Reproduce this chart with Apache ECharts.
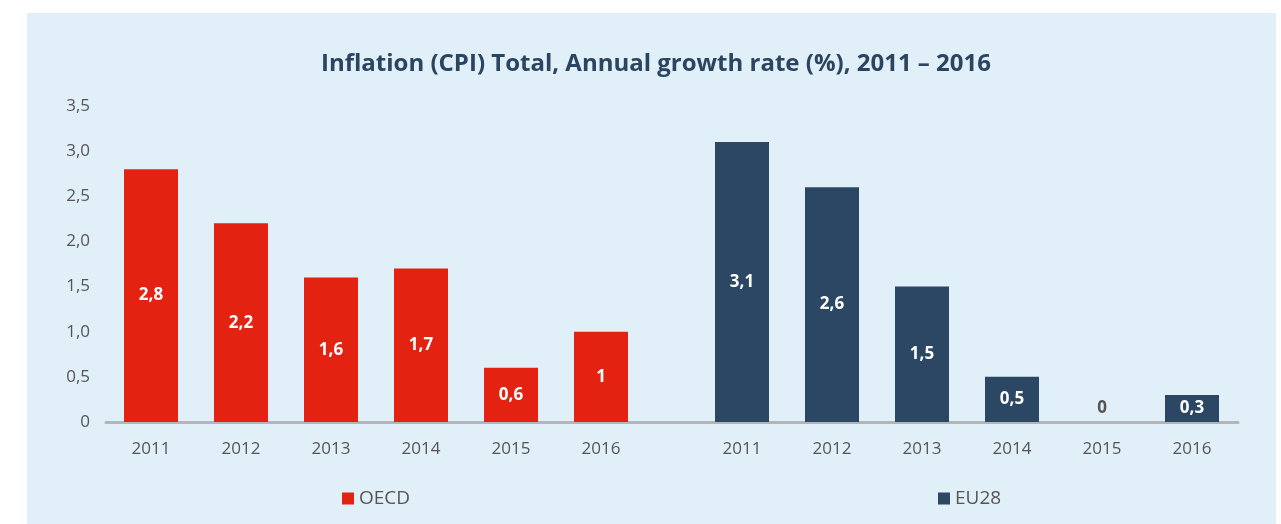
<!DOCTYPE html>
<html>
<head>
<meta charset="utf-8">
<script src="https://cdn.jsdelivr.net/npm/echarts@6/dist/echarts.min.js"></script>
<style>
  html, body { margin: 0; padding: 0; background: #ffffff; }
  #chart { width: 1281px; height: 524px; }
</style>
</head>
<body>
<div id="chart"></div>
<script>
const title = 'Inflation (CPI) Total, Annual growth rate (%), 2011 \u2013 2016';
const years = ['2011', '2012', '2013', '2014', '2015', '2016'];
const oecdValues = [2.8, 2.2, 1.6, 1.7, 0.6, 1];
const eu28Values = [3.1, 2.6, 1.5, 0.5, 0, 0.3];
const seriesNames = ['OECD', 'EU28'];
const yTicks = [0, 0.5, 1, 1.5, 2, 2.5, 3, 3.5];

const RED = '#e32212';
const NAVY = '#2b4763';
const TEXT = '#555555';
const FONT = '"Open Sans", Lato, sans-serif';

function fmt(v) { return String(v).replace('.', ','); }
function tickFmt(v) { return v === 0 ? '0' : v.toFixed(1).replace('.', ','); }

function buildData(values) {
  return values.map(v => v === 0
    ? { value: v, label: { position: 'top', color: TEXT, distance: 5 } }
    : v);
}

const TOP = 106, HEIGHT = 316;
const yMin = yTicks[0], yMax = yTicks[yTicks.length - 1], yStep = yTicks[1] - yTicks[0];

const chart = echarts.init(document.getElementById('chart'), null, { renderer: 'canvas' });
const barLabel = {
  show: true, position: 'inside', color: '#ffffff', fontFamily: FONT,
  fontWeight: 'bold', fontSize: 17, formatter: p => fmt(p.value)
};
const catAxisCommon = {
  type: 'category',
  axisLine: { show: false },
  axisTick: { show: false },
  axisLabel: { color: TEXT, fontSize: 17, fontFamily: FONT, margin: 19 }
};
const hiddenY = { type: 'value', min: yMin, max: yMax, interval: yStep, show: false, splitLine: { show: false } };

chart.setOption({
  backgroundColor: '#ffffff',
  animation: false,
  graphic: [{
    type: 'rect', z: -10, silent: true,
    shape: { x: 27, y: 13, width: 1249, height: 520 },
    style: { fill: '#e1eff9' }
  }],
  title: {
    text: title, left: 651, top: 47, textAlign: 'center',
    textStyle: { color: '#2a4560', fontSize: 24, fontWeight: 'bold', fontFamily: FONT }
  },
  legend: [
    { data: [seriesNames[0]], left: 337, top: 484, icon: 'rect', itemWidth: 12, itemHeight: 12, itemGap: 8,
      textStyle: { color: TEXT, fontSize: 19, fontFamily: FONT } },
    { data: [seriesNames[1]], left: 933, top: 484, icon: 'rect', itemWidth: 12, itemHeight: 12, itemGap: 8,
      textStyle: { color: TEXT, fontSize: 19, fontFamily: FONT } }
  ],
  grid: [
    { left: 106, width: 1132, top: TOP, height: HEIGHT },
    { left: 106, width: 540, top: TOP, height: HEIGHT },
    { left: 697, width: 540, top: TOP, height: HEIGHT }
  ],
  xAxis: [
    { type: 'category', gridIndex: 0, data: [''], axisLine: { show: true, lineStyle: { color: '#b3b5b8', width: 3 } },
      axisTick: { show: false }, axisLabel: { show: false } },
    Object.assign({ gridIndex: 1, data: years }, catAxisCommon),
    Object.assign({ gridIndex: 2, data: years }, catAxisCommon)
  ],
  yAxis: [
    { type: 'value', gridIndex: 0, min: yMin, max: yMax, interval: yStep,
      axisLine: { show: false }, axisTick: { show: false }, splitLine: { show: false },
      axisLabel: { color: TEXT, fontSize: 17, fontFamily: FONT, margin: 16, formatter: tickFmt } },
    Object.assign({ gridIndex: 1 }, hiddenY),
    Object.assign({ gridIndex: 2 }, hiddenY)
  ],
  series: [
    { name: seriesNames[0], type: 'bar', xAxisIndex: 1, yAxisIndex: 1, barWidth: 54,
      itemStyle: { color: RED }, label: barLabel, data: buildData(oecdValues) },
    { name: seriesNames[1], type: 'bar', xAxisIndex: 2, yAxisIndex: 2, barWidth: 54,
      itemStyle: { color: NAVY }, label: barLabel, data: buildData(eu28Values) }
  ]
});
</script>
</body>
</html>
